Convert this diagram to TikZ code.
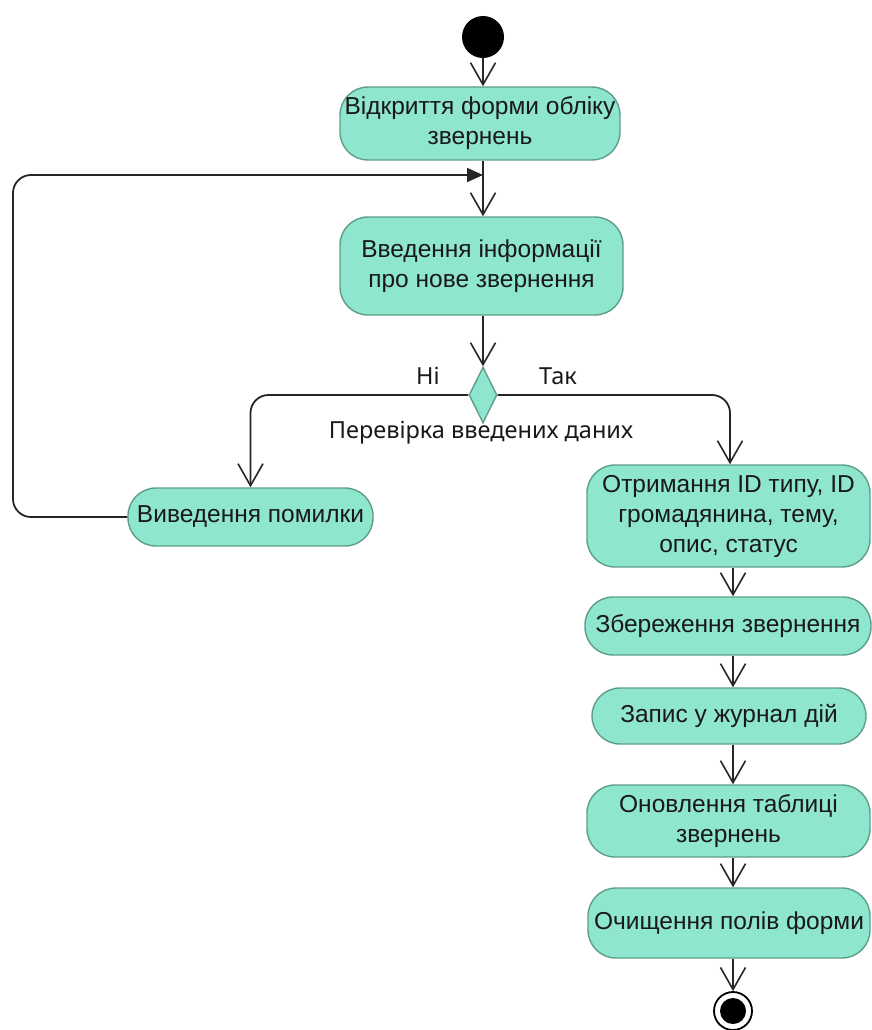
\documentclass[tikz,border=0pt]{standalone}
\usepackage{fontspec}
\setmainfont{Liberation Sans}
\newfontfamily\lblfont{Noto Sans}
\usetikzlibrary{arrows.meta,shapes.geometric}
\definecolor{actfill}{HTML}{8EE6CF}
\definecolor{actdraw}{HTML}{5E9E88}
\definecolor{lnc}{HTML}{262626}
\tikzset{
  act/.style={draw=actdraw,line width=1.4pt,fill=actfill,rounded corners=28pt,
    align=center,font=\fontsize{24.5}{30}\selectfont,inner sep=0pt,text=black!90},
  flow/.style={draw=lnc,line width=1.8pt,-{Straight Barb[length=22pt,width=25pt,line width=1.6pt]}},
  loopflow/.style={draw=lnc,line width=1.8pt,rounded corners=18pt,-{Triangle[length=16pt,width=14pt]}},
  lbl/.style={font=\lblfont\fontsize{23.5}{26}\selectfont,text=black!90,inner sep=0pt}
}
\begin{document}
\begin{tikzpicture}[x=1pt,y=-1pt]
\useasboundingbox (0,0) rectangle (871,1030);
% initial
\node[circle,fill=black,minimum size=42pt,inner sep=0pt] (start) at (483,37) {};
% activities
\node[act,minimum width=280pt,minimum height=73pt] (open) at (480,123.5) {Відкриття форми обліку\\звернень};
\node[act,minimum width=283pt,minimum height=98pt] (input) at (481.5,266) {Введення інформації\\про нове звернення};
\node[draw=actdraw,line width=1.4pt,fill=actfill,diamond,minimum width=28pt,minimum height=56pt,inner sep=0pt] (dec) at (483,395) {};
\node[act,minimum width=245pt,minimum height=58pt] (err) at (250.5,517) {Виведення помилки};
\node[act,minimum width=283pt,minimum height=102pt] (get) at (728.5,516) {Отримання ID типу, ID\\громадянина, тему,\\опис, статус};
\node[act,minimum width=286pt,minimum height=58pt] (save) at (728,626) {Збереження звернення};
\node[act,minimum width=274pt,minimum height=56pt] (log) at (729,716) {Запис у журнал дій};
\node[act,minimum width=283pt,minimum height=72pt] (upd) at (728.5,821) {Оновлення таблиці\\звернень};
\node[act,minimum width=282pt,minimum height=70pt] (clr) at (729,923) {Очищення полів форми};
% final
\node[circle,draw=black,line width=1.8pt,fill=white,minimum size=38pt,inner sep=0pt] (end) at (733,1011) {};
\node[circle,fill=black,minimum size=26pt,inner sep=0pt] (endin) at (733,1011) {};
% labels
\node[lbl] (no) at (428,376) {Ні};
\node[lbl] (yes) at (558,376) {Так};
\node[lbl] (chk) at (481,433) {Перевірка введених даних};
% connectors
\coordinate (join) at (483,175);
\coordinate (lc) at (13,517);
\draw[flow] (start) -- (open.north -| start);
\draw[flow] (open.south -| start) -- (input.north -| start);
\draw[flow] (input.south -| start) -- (dec.north);
\draw[flow,rounded corners=18pt] (dec.west) -| (err.north);
\draw[flow,rounded corners=18pt] (dec.east) -| ([xshift=1.5pt]get.north);
\draw[loopflow] (err.west) -- (lc) |- (join);
\draw[flow] (get.south -| end) -- (save.north -| end);
\draw[flow] (save.south -| end) -- (log.north -| end);
\draw[flow] (log.south -| end) -- (upd.north -| end);
\draw[flow] (upd.south -| end) -- (clr.north -| end);
\draw[flow] (clr.south -| end) -- (end.north);
\end{tikzpicture}
\end{document}
